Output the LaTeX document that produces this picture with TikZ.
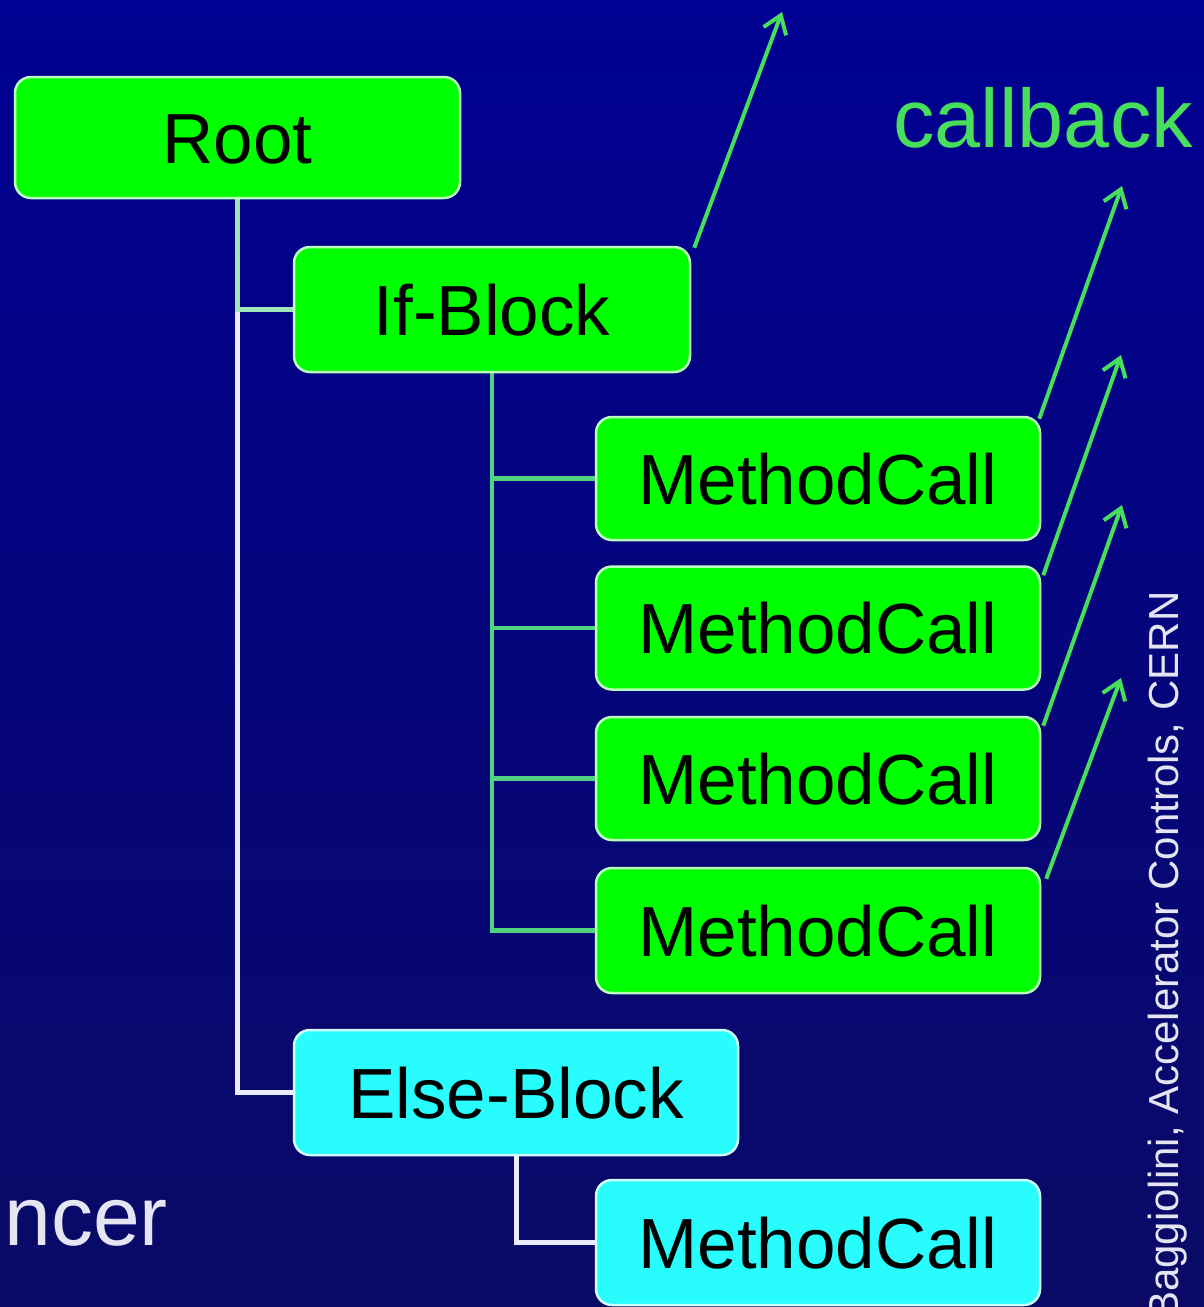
\documentclass[tikz,border=0pt]{standalone}
\usepackage{fontspec}
\setmainfont{Liberation Sans}
\usetikzlibrary{arrows.meta}

\pgfdeclarelayer{back}
\pgfdeclarelayer{links}
\pgfsetlayers{back,links,main}

\definecolor{bgtop}{RGB}{0,0,146}
\definecolor{bgbot}{RGB}{10,10,102}
\definecolor{boxgreen}{RGB}{0,255,0}
\definecolor{boxgreenline}{RGB}{185,255,185}
\definecolor{boxcyan}{RGB}{40,252,252}
\definecolor{boxcyanline}{RGB}{205,255,255}
\definecolor{treegreen}{RGB}{80,212,130}
\definecolor{treepale}{RGB}{160,228,185}
\definecolor{treewhite}{RGB}{236,236,255}
\definecolor{callgreen}{RGB}{70,222,90}
\definecolor{notewhite}{RGB}{228,228,242}

\tikzset{
  blockbox/.style={rectangle, rounded corners=16pt, inner sep=0pt,
    line width=2.5pt, text=black, font=\fontsize{71}{71}\selectfont,
    text height=51pt, text depth=0pt, minimum height=123pt},
  greenbox/.style={blockbox, fill=boxgreen, draw=boxgreenline},
  cyanbox/.style={blockbox, fill=boxcyan, draw=boxcyanline},
  treeline/.style={line width=4.5pt, color=treegreen},
  paleline/.style={line width=5pt, color=treepale},
  whiteline/.style={line width=5pt, color=treewhite},
  callarrow/.style={line width=4pt, color=callgreen,
    -{Straight Barb[length=17pt,width=24pt,line width=4pt]}},
}

\begin{document}
\begin{tikzpicture}[x=1pt,y=-1pt]
  % page and background
  \useasboundingbox (0,0) rectangle (1204,1307);
  \clip (0,0) rectangle (1204,1307);
  \begin{pgfonlayer}{back}
    \fill[top color=bgtop, bottom color=bgbot] (0,0) rectangle (1204,1307);
  \end{pgfonlayer}

  % tree blocks
  \node[greenbox, minimum width=445pt, minimum height=121pt] (root) at (237.5,137.5) {Root};
  \node[greenbox, minimum width=396pt, minimum height=125pt] (ifb) at (492,309.5) {If-Block};
  \node[greenbox, minimum width=444pt] (mc1) at (818,478.5) {MethodCall};
  \node[greenbox, minimum width=444pt] (mc2) at (818,628) {MethodCall};
  \node[greenbox, minimum width=444pt] (mc3) at (818,778.5) {MethodCall};
  \node[greenbox, minimum width=444pt, minimum height=125pt] (mc4) at (818,930.5) {MethodCall};
  \node[cyanbox, minimum width=444pt, minimum height=125pt] (elseb) at (516,1092.5) {Else-Block};
  \node[cyanbox, minimum width=444pt, minimum height=125pt] (mc5) at (818,1242.5) {MethodCall};

  % tree connectors, kept behind the blocks
  \begin{pgfonlayer}{links}
    \draw[whiteline] (root.south) |- (elseb.west);
    \draw[paleline] (root.south) |- (ifb.west);
    \foreach \m in {mc1,mc2,mc3,mc4}
      \draw[treeline] (ifb.south) |- (\m.west);
    \draw[whiteline] (elseb.south) |- (mc5.west);
  \end{pgfonlayer}

  % callback arrows
  \coordinate (t0) at (782,12);
  \coordinate (t1) at (1122,186);
  \coordinate (t2) at (1121,355);
  \coordinate (t3) at (1122,505);
  \coordinate (t4) at (1121,678);
  \draw[callarrow] ([xshift=3pt,yshift=-2pt]ifb.north east) -- (t0);
  \draw[callarrow] ([xshift=-2pt,yshift=-3pt]mc1.north east) -- (t1);
  \draw[callarrow] ([xshift=2pt,yshift=-10pt]mc2.north east) -- (t2);
  \draw[callarrow] ([xshift=2pt,yshift=-10pt]mc3.north east) -- (t3);
  \draw[callarrow] ([xshift=5pt,yshift=-12pt]mc4.north east) -- (t4);

  \node[anchor=base west, inner sep=0pt, text=callgreen,
        font=\fontsize{83}{83}\selectfont] (cb) at (893,147) {callback};

  % side texts
  \node[anchor=base east, inner sep=0pt, text=notewhite,
        font=\fontsize{84}{84}\selectfont] (enc) at (168,1245) {encer};
  \node[anchor=base west, inner sep=0pt, rotate=90, text=notewhite,
        font=\fontsize{42}{42}\selectfont] (credit) at (1178,1320)
        {Baggiolini, Accelerator Controls, CERN};
\end{tikzpicture}
\end{document}
